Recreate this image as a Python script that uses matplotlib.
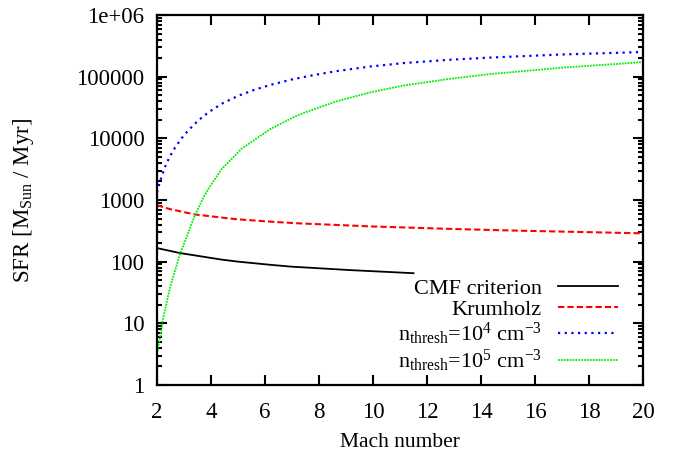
import matplotlib
matplotlib.use('Agg')
import matplotlib.pyplot as plt
import matplotlib.ticker as ticker
import numpy as np

plt.rcParams['font.family'] = ['Liberation Serif', 'DejaVu Serif']
plt.rcParams['mathtext.fontset'] = 'custom'
plt.rcParams['mathtext.rm'] = 'Liberation Serif'
plt.rcParams['mathtext.it'] = 'Liberation Serif:italic'

# star formation rate vs Mach number for each model
mach_cmf = [2.0, 2.85, 4.39, 5.01, 6.31, 6.98, 9.15, 11.5]
sfr_cmf = [166, 138, 108, 100, 88, 83, 73, 65]

mach_krum = [2.0, 2.5, 3.41, 4.89, 6.31, 7.3, 10.0, 12.85, 15.4, 18.0, 20.0]
sfr_krum = [822, 708, 582, 490, 442, 417, 372, 340, 318, 301, 288]

mach_n4 = [2.0, 2.11, 2.30, 2.48, 2.67, 2.91, 3.16, 3.53, 3.90, 4.39, 5.01, 5.63,
           6.19, 7.0, 7.8, 8.65, 9.89, 11.12, 12.85, 14.33, 17.0, 20.0]
sfr_n4 = [1320, 2000, 3470, 5130, 7080, 10000, 13500, 19500, 26300, 36300, 49000, 61700,
          73300, 90200, 106000, 123000, 146000, 166000, 188000, 204000, 229000, 251000]

mach_n5 = [2.0, 2.07, 2.23, 2.48, 2.85, 3.41, 3.72, 3.90, 4.39, 5.13, 6.19,
           7.05, 7.42, 8.65, 9.89, 11.12, 12.85, 14.33, 17.0, 20.0]
sfr_n5 = [3.2, 4.6, 12, 38, 132, 575, 1100, 1510, 3160, 6760, 14100,
          21900, 25700, 39800, 55600, 71600, 92300, 110000, 140000, 172000]

xticks = np.arange(2, 21, 2)
yticks = [1, 10, 100, 1000, 10000, 100000, 1e6]
ytick_labels = ['1', '10', '100', '1000', '10000', '100000', '1e+06']

fig = plt.figure(figsize=(6.82, 4.59), dpi=100)
ax = fig.add_axes([157 / 682, 1 - 385 / 459, (643 - 157) / 682, (385 - 15) / 459])

ax.plot(mach_cmf, sfr_cmf, color='black', lw=1.3, label='CMF criterion')
ax.plot(mach_krum, sfr_krum, color='red', lw=1.5, ls=(0, (3, 1.5)), label='Krumholz')
ax.plot(mach_n4, sfr_n4, color='blue', lw=1.6, ls=(0, (1, 2)),
        label=r'n$_{\rm thresh}$=10$^4$ cm$^{-3}$')
ax.plot(mach_n5, sfr_n5, color='#00ee00', lw=1.3, ls=(0, (1, 0.6)),
        label=r'n$_{\rm thresh}$=10$^5$ cm$^{-3}$')

ax.set_yscale('log')
ax.set_xlim(2, 20)
ax.set_ylim(1, 1e6)
ax.set_xticks(xticks)
ax.set_yticks(yticks)
ax.set_yticklabels(ytick_labels)
ax.yaxis.set_minor_locator(ticker.LogLocator(base=10, subs=np.arange(2, 10), numticks=20))
ax.yaxis.set_minor_formatter(ticker.NullFormatter())

ax.tick_params(which='both', direction='in', top=True, right=True, labelsize=16.5, width=1.5)
ax.tick_params(which='major', length=7)
ax.tick_params(which='minor', length=3.5)
ax.tick_params(axis='x', which='major', pad=12)
ax.tick_params(axis='y', which='major', pad=9)
for sp in ax.spines.values():
    sp.set_linewidth(1.6)

ax.set_xlabel('Mach number', fontsize=15.5)
ax.xaxis.set_label_coords(0.5, -0.13, transform=ax.transAxes)
ax.set_ylabel(r'SFR [M$_{\rm Sun}$ / Myr]', fontsize=16.5)
ax.yaxis.set_label_coords(-0.25, 0.5, transform=ax.transAxes)

leg = ax.legend(loc='upper right', bbox_to_anchor=(0.972, 0.318), frameon=False,
                markerfirst=False, fontsize=16, handlelength=2.7, handletextpad=0.75,
                labelspacing=0.03, borderpad=0)

fig.savefig('out.png', dpi=100)
